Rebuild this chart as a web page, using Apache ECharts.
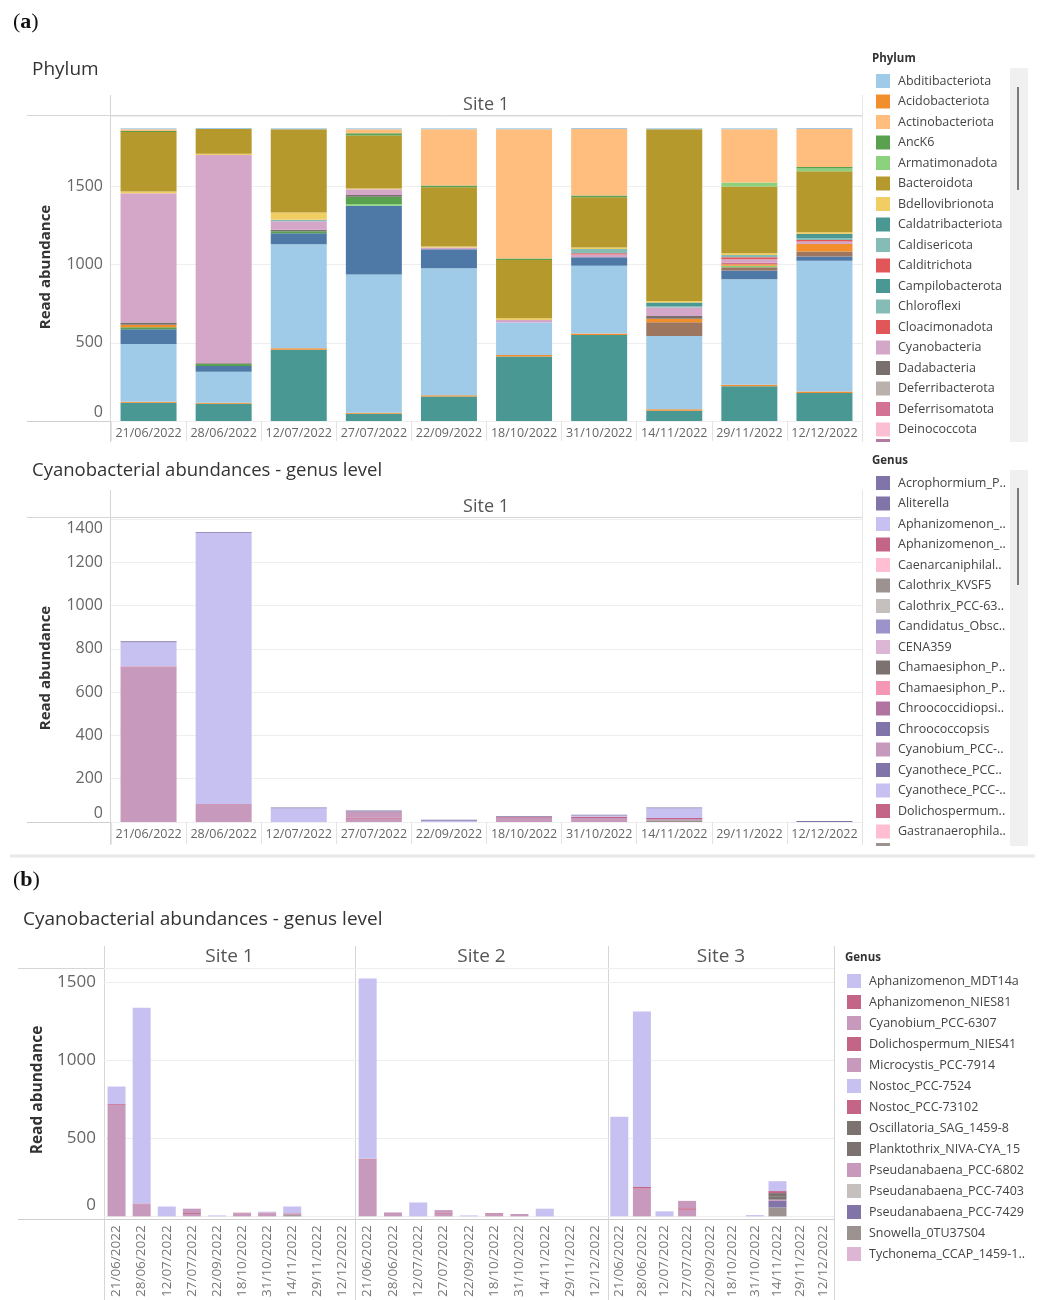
<!DOCTYPE html>
<html>
<head>
<meta charset="utf-8">
<script src="https://cdn.jsdelivr.net/npm/echarts@6/dist/echarts.min.js"></script>
<style>
  html, body { margin: 0; padding: 0; background: #ffffff; }
  #chart { width: 1040px; height: 1300px; }
</style>
</head>
<body>
<div id="chart"></div>
<script>
// ---------- data ----------
const dates = ['21/06/2022','28/06/2022','12/07/2022','27/07/2022','22/09/2022',
               '18/10/2022','31/10/2022','14/11/2022','29/11/2022','12/12/2022'];

// Site 1 phyla, in legend order (the first one sits on top of each stack)
const phylumNames = ['Abditibacteriota','Acidobacteriota','Actinobacteriota','AncK6','Armatimonadota',
  'Bacteroidota','Bdellovibrionota','Caldatribacteriota','Caldisericota','Calditrichota',
  'Campilobacterota','Chloroflexi','Cloacimonadota','Cyanobacteria','Dadabacteria',
  'Deferribacterota','Deferrisomatota','Deinococcota','Dependentiae','Desulfobacterota',
  'Firmicutes','Gemmatimonadota','Myxococcota','Planctomycetota','Proteobacteria',
  'Spirochaetota','Verrucomicrobiota'];

const phylumReads = [
  [6, 6, 6, 6, 6, 6, 6, 6, 6, 6],
  [0, 0, 0, 0, 0, 0, 0, 0, 0, 0],
  [11, 0, 0, 26, 360, 827, 426, 0, 341, 243],
  [6, 0, 0, 13, 11, 9, 11, 0, 0, 9],
  [0, 0, 0, 0, 0, 0, 0, 0, 26, 19],
  [381, 158, 533, 339, 379, 373, 320, 1098, 426, 390],
  [11, 9, 47, 6, 6, 11, 11, 9, 11, 11],
  [0, 0, 0, 0, 0, 0, 0, 23, 0, 26],
  [0, 0, 9, 0, 0, 0, 26, 9, 15, 11],
  [0, 0, 0, 0, 0, 0, 9, 0, 13, 11],
  [0, 0, 0, 0, 0, 0, 0, 0, 0, 0],
  [0, 0, 0, 0, 0, 0, 0, 0, 0, 0],
  [0, 0, 0, 0, 0, 0, 0, 0, 0, 0],
  [827, 1330, 55, 36, 11, 17, 17, 55, 21, 15],
  [13, 6, 9, 11, 0, 0, 0, 17, 0, 0],
  [0, 0, 0, 0, 0, 0, 0, 0, 0, 0],
  [0, 0, 0, 0, 0, 0, 0, 0, 11, 0],
  [0, 0, 0, 0, 0, 0, 0, 0, 0, 0],
  [0, 0, 0, 0, 0, 0, 0, 0, 0, 0],
  [17, 0, 0, 0, 0, 0, 0, 23, 9, 49],
  [13, 13, 13, 47, 0, 0, 0, 0, 0, 0],
  [0, 0, 0, 11, 0, 0, 0, 0, 10, 0],
  [0, 0, 0, 0, 0, 0, 0, 87, 21, 32],
  [94, 36, 70, 439, 121, 0, 55, 0, 55, 26],
  [369, 198, 665, 884, 812, 207, 433, 469, 676, 837],
  [6, 6, 9, 6, 9, 9, 9, 9, 9, 9],
  [117, 111, 456, 47, 156, 413, 550, 66, 222, 179]
];

// Cyanobacterial genera shown per site
const genusNames = ['Aphanizomenon_MDT14a','Aphanizomenon_NIES81','Cyanobium_PCC-6307',
  'Dolichospermum_NIES41','Microcystis_PCC-7914','Nostoc_PCC-7524','Nostoc_PCC-73102',
  'Oscillatoria_SAG_1459-8','Planktothrix_NIVA-CYA_15','Pseudanabaena_PCC-6802',
  'Pseudanabaena_PCC-7403','Pseudanabaena_PCC-7429','Snowella_0TU37S04','Tychonema_CCAP_1459-11'];

const site1Reads = [
  [112, 1254, 63, 0, 6, 0, 6, 44, 0, 0],
  [0, 0, 0, 0, 0, 0, 0, 0, 0, 0],
  [0, 0, 0, 28, 0, 0, 0, 0, 0, 0],
  [5, 4, 0, 6, 0, 3, 5, 5, 0, 0],
  [714, 78, 0, 15, 0, 20, 19, 6, 0, 0],
  [0, 0, 0, 0, 0, 0, 0, 0, 0, 0],
  [0, 0, 0, 0, 0, 0, 0, 0, 0, 0],
  [0, 0, 0, 0, 0, 0, 0, 0, 0, 0],
  [0, 0, 0, 0, 0, 0, 0, 0, 0, 0],
  [0, 0, 0, 0, 0, 0, 0, 0, 0, 0],
  [0, 0, 0, 0, 0, 0, 0, 0, 0, 0],
  [0, 0, 0, 0, 0, 0, 0, 0, 0, 0],
  [0, 0, 0, 0, 0, 0, 0, 8, 0, 0],
  [0, 0, 0, 0, 0, 0, 0, 0, 0, 0]
];

const site2Reads = [
  [1155, 0, 89, 0, 6, 0, 0, 49, 0, 0],
  [0, 0, 0, 0, 0, 4, 0, 0, 0, 0],
  [0, 0, 0, 18, 0, 0, 0, 0, 0, 0],
  [5, 0, 0, 5, 0, 0, 0, 0, 0, 0],
  [363, 25, 0, 17, 0, 17, 15, 0, 0, 0],
  [0, 0, 0, 0, 0, 0, 0, 0, 0, 0],
  [0, 0, 0, 0, 0, 0, 0, 0, 0, 0],
  [0, 0, 0, 0, 0, 0, 0, 0, 0, 0],
  [0, 0, 0, 0, 0, 0, 0, 0, 0, 0],
  [0, 0, 0, 0, 0, 0, 0, 0, 0, 0],
  [0, 0, 0, 0, 0, 0, 0, 0, 0, 0],
  [0, 0, 0, 0, 0, 0, 0, 0, 0, 0],
  [0, 0, 0, 0, 0, 0, 0, 0, 0, 0],
  [0, 0, 0, 0, 0, 0, 0, 0, 0, 0]
];

const site3Reads = [
  [637, 1124, 32, 0, 0, 0, 8, 63, 0, 0],
  [0, 0, 0, 0, 0, 0, 0, 0, 0, 0],
  [0, 0, 0, 47, 0, 0, 0, 0, 0, 0],
  [0, 10, 0, 10, 0, 0, 0, 0, 0, 0],
  [0, 178, 0, 42, 0, 0, 0, 0, 0, 0],
  [0, 0, 0, 0, 0, 0, 0, 0, 0, 0],
  [0, 0, 0, 0, 0, 0, 0, 13, 0, 0],
  [0, 0, 0, 0, 0, 0, 0, 20, 0, 0],
  [0, 0, 0, 0, 0, 0, 0, 22, 0, 0],
  [0, 0, 0, 0, 0, 0, 0, 8, 0, 0],
  [0, 0, 0, 0, 0, 0, 0, 0, 0, 0],
  [0, 0, 0, 0, 0, 0, 0, 42, 0, 0],
  [0, 0, 0, 0, 0, 0, 0, 57, 0, 0],
  [0, 0, 0, 0, 0, 0, 0, 0, 0, 0]
];

// genus list of the single-site panel (alphabetical, top of stack first)
const panelGenusNames = ['Acrophormium_PCC-7375','Aliterella','Aphanizomenon_MDT14a','Aphanizomenon_NIES81',
  'Caenarcaniphilales','Calothrix_KVSF5','Calothrix_PCC-6303','Candidatus_Obscuribacter','CENA359',
  'Chamaesiphon_PCC-6605','Chamaesiphon_PCC-7430','Chroococcidiopsis_PCC-6712','Chroococcopsis',
  'Cyanobium_PCC-6307','Cyanothece_PCC-7425','Cyanothece_PCC-8801','Dolichospermum_NIES41',
  'Gastranaerophilales','Microcystis_PCC-7914','Snowella_0TU37S04'];
const panelGenusLabels = ['Acrophormium_P..','Aliterella','Aphanizomenon_..','Aphanizomenon_..',
  'Caenarcaniphilal..','Calothrix_KVSF5','Calothrix_PCC-63..','Candidatus_Obsc..','CENA359',
  'Chamaesiphon_P..','Chamaesiphon_P..','Chroococcidiopsi..','Chroococcopsis','Cyanobium_PCC-..',
  'Cyanothece_PCC..','Cyanothece_PCC-..','Dolichospermum..','Gastranaerophila..'];
const acrophormiumSite1 = [4, 4, 4, 4, 4, 3, 3, 4, 0, 5];

const siteNames = ['Site 1', 'Site 2', 'Site 3'];
const phylumTicks = [0, 500, 1000, 1500];
const panelTicks = [0, 200, 400, 600, 800, 1000, 1200, 1400];
const siteTicks = [0, 500, 1000, 1500];

// ---------- styling ----------
const FONT = "'Open Sans', 'Noto Sans', sans-serif";
const phylumColor = {
  Abditibacteriota:'#a0cbe8', Acidobacteriota:'#f28e2b', Actinobacteriota:'#ffbe7d', AncK6:'#59a14f',
  Armatimonadota:'#8cd17d', Bacteroidota:'#b6992d', Bdellovibrionota:'#f1ce63', Caldatribacteriota:'#499894',
  Caldisericota:'#86bcb6', Calditrichota:'#e15759', Campilobacterota:'#499894', Chloroflexi:'#86bcb6',
  Cloacimonadota:'#e15759', Cyanobacteria:'#d4a6c8', Dadabacteria:'#79706e', Deferribacterota:'#bab0ac',
  Deferrisomatota:'#d37295', Deinococcota:'#fabfd2', Dependentiae:'#b07aa1', Desulfobacterota:'#f28e2b',
  Firmicutes:'#59a14f', Gemmatimonadota:'#8cd17d', Myxococcota:'#9d7660', Planctomycetota:'#4e79a7',
  Proteobacteria:'#a0cbe8', Spirochaetota:'#f28e2b', Verrucomicrobiota:'#499894'
};
const genusColor = {
  'Acrophormium_PCC-7375':'#8074a8', 'Aliterella':'#8074a8', 'Aphanizomenon_MDT14a':'#c6c1f0',
  'Aphanizomenon_NIES81':'#c46487', 'Caenarcaniphilales':'#ffbed1', 'Calothrix_KVSF5':'#9c9290',
  'Calothrix_PCC-6303':'#c5bfbe', 'Candidatus_Obscuribacter':'#9b93c9', 'CENA359':'#ddb5d5',
  'Chamaesiphon_PCC-6605':'#7c7270', 'Chamaesiphon_PCC-7430':'#f498b6', 'Chroococcidiopsis_PCC-6712':'#b173a0',
  'Chroococcopsis':'#8074a8', 'Cyanobium_PCC-6307':'#c799bc', 'Cyanothece_PCC-7425':'#8074a8',
  'Cyanothece_PCC-8801':'#c6c1f0', 'Dolichospermum_NIES41':'#c46487', 'Gastranaerophilales':'#ffbed1',
  'Microcystis_PCC-7914':'#c799bc', 'Nostoc_PCC-7524':'#c6c1f0', 'Nostoc_PCC-73102':'#c46487',
  'Oscillatoria_SAG_1459-8':'#7c7270', 'Planktothrix_NIVA-CYA_15':'#7c7270', 'Pseudanabaena_PCC-6802':'#c799bc',
  'Pseudanabaena_PCC-7403':'#c5bfbe', 'Pseudanabaena_PCC-7429':'#8074a8', 'Snowella_0TU37S04':'#9c9290',
  'Tychonema_CCAP_1459-11':'#ddb5d5'
};

// ---------- layout ----------
const grids = [
  { left: 111, top: 116, width: 751, height: 305 },   // phylum
  { left: 111, top: 519, width: 751, height: 303 },   // genus, single site
  { left: 104, top: 968, width: 251, height: 251 },   // site 1
  { left: 355, top: 968, width: 253, height: 251 },   // site 2
  { left: 608, top: 968, width: 226, height: 251 }    // site 3
];

function yAxisFor(gi, max, ticks, fontSize, shift) {
  const step = ticks[1] - ticks[0];
  const top = ticks[ticks.length - 1];
  return {
    gridIndex: gi, type: 'value', min: 0, max: max, interval: step,
    axisLine: { show: false }, axisTick: { show: false },
    splitLine: { lineStyle: { color: '#eeeeee', width: 1 } },
    axisLabel: {
      margin: 8, color: '#666', fontSize: fontSize, fontFamily: FONT,
      formatter: v => {
        if (ticks.indexOf(v) < 0) return '';
        if (v === 0) return '{lo|0}';
        if (v === top && top === max) return '{hi|' + v + '}';
        return String(v);
      },
      rich: {
        lo: { padding: [0, 0, shift, 0], fontSize: fontSize, color: '#666', fontFamily: FONT },
        hi: { padding: [shift, 0, 0, 0], fontSize: fontSize, color: '#666', fontFamily: FONT }
      }
    }
  };
}

const xAxes = [
  { gridIndex: 0, type: 'category', data: dates, axisLine: { show: false },
    axisTick: { show: true, length: 20, lineStyle: { color: '#e3e3e3' } },
    axisLabel: { interval: 0, margin: 6, color: '#666', fontSize: 12.5, fontFamily: FONT } },
  { gridIndex: 1, type: 'category', data: dates, axisLine: { show: false },
    axisTick: { show: true, length: 22, lineStyle: { color: '#e3e3e3' } },
    axisLabel: { interval: 0, margin: 6, color: '#666', fontSize: 12.5, fontFamily: FONT } }
];
for (let i = 2; i < 5; i++) {
  xAxes.push({ gridIndex: i, type: 'category', data: dates, axisLine: { show: false },
    axisTick: { show: false },
    axisLabel: { interval: 0, rotate: 90, margin: 9, color: '#777', fontSize: 13.5, fontFamily: FONT } });
}
const yAxes = [
  yAxisFor(0, 1950, phylumTicks, 16, 18),
  yAxisFor(1, 1400, panelTicks, 16, 18),
  yAxisFor(2, 1590, siteTicks, 17, 22),
  Object.assign(yAxisFor(3, 1590, siteTicks, 17, 22), { axisLabel: { show: false } }),
  Object.assign(yAxisFor(4, 1590, siteTicks, 17, 22), { axisLabel: { show: false } })
];

// ---------- series (stacks build from the bottom, so walk the lists backwards) ----------
const series = [];
for (let i = phylumNames.length - 1; i >= 0; i--) {
  const n = phylumNames[i];
  series.push({ name: n, type: 'bar', stack: 'phylum', xAxisIndex: 0, yAxisIndex: 0,
    barWidth: 56, data: phylumReads[i], itemStyle: { color: phylumColor[n] } });
}
for (let i = panelGenusNames.length - 1; i >= 0; i--) {
  const n = panelGenusNames[i];
  const k = genusNames.indexOf(n);
  let vals;
  if (k >= 0) vals = site1Reads[k];
  else if (n === 'Acrophormium_PCC-7375') vals = acrophormiumSite1;
  else vals = dates.map(() => 0);
  series.push({ name: n, type: 'bar', stack: 'panel', xAxisIndex: 1, yAxisIndex: 1,
    barWidth: 56, data: vals, itemStyle: { color: genusColor[n] } });
}
[site1Reads, site2Reads, site3Reads].forEach((rows, s) => {
  for (let i = genusNames.length - 1; i >= 0; i--) {
    const n = genusNames[i];
    series.push({ name: n, type: 'bar', stack: 'site' + s, xAxisIndex: s + 2, yAxisIndex: s + 2,
      barWidth: 18, data: rows[i], itemStyle: { color: genusColor[n] } });
  }
});

// ---------- legends ----------
const legendText = { fontSize: 12.5, color: '#444', fontFamily: FONT, lineHeight: 14, padding: [0, 0, 0, 3] };
const panelLabelOf = {};
panelGenusLabels.forEach((l, i) => { panelLabelOf[panelGenusNames[i]] = l; });
const legends = [
  { data: phylumNames.slice(0, 18), orient: 'vertical', left: 876, top: 74, padding: 0,
    itemWidth: 14, itemHeight: 14, itemGap: 6.5, icon: 'rect', selectedMode: false, textStyle: legendText },
  { data: panelGenusNames.slice(0, 18), orient: 'vertical', left: 876, top: 476, padding: 0,
    itemWidth: 14, itemHeight: 14, itemGap: 6.5, icon: 'rect', selectedMode: false, textStyle: legendText,
    formatter: n => panelLabelOf[n] || n },
  { data: genusNames, orient: 'vertical', left: 847, top: 974, padding: 0,
    itemWidth: 14, itemHeight: 14, itemGap: 7, icon: 'rect', selectedMode: false, textStyle: legendText,
    formatter: n => n === 'Tychonema_CCAP_1459-11' ? 'Tychonema_CCAP_1459-1..' : n }
];

// ---------- frame: headers, rules, titles ----------
const LINE = '#d6d6d6';
function hline(x1, x2, y, c, w) {
  return { type: 'line', silent: true, shape: { x1: x1, y1: y, x2: x2, y2: y },
    style: { stroke: c || LINE, lineWidth: w || 1 } };
}
function vline(x, y1, y2, c, w) {
  return { type: 'line', silent: true, shape: { x1: x, y1: y1, x2: x, y2: y2 },
    style: { stroke: c || LINE, lineWidth: w || 1 } };
}
function label(text, x, y, size, color, extra) {
  return { type: 'text', silent: true, x: x, y: y,
    style: Object.assign({ text: text, fontSize: size, fill: color, fontFamily: FONT,
      align: 'left', verticalAlign: 'middle' }, extra || {}) };
}
function yTitle(x, y, size) {
  return { type: 'text', silent: true, x: x, y: y, rotation: Math.PI / 2,
    style: { text: 'Read abundance', fontSize: size, fontWeight: 'bold', fill: '#333', fontFamily: FONT,
      align: 'center', verticalAlign: 'middle' } };
}

const graphics = [
  // panel tags
  { type: 'text', silent: true, x: 13, y: 22,
    style: { text: '({b|a})', fontSize: 22, fill: '#111', fontFamily: "'Liberation Serif', serif",
      verticalAlign: 'middle', rich: { b: { fontWeight: 'bold', fontSize: 22, fontFamily: "'Liberation Serif', serif", fill: '#111' } } } },
  { type: 'text', silent: true, x: 13, y: 880,
    style: { text: '({b|b})', fontSize: 22, fill: '#111', fontFamily: "'Liberation Serif', serif",
      verticalAlign: 'middle', rich: { b: { fontWeight: 'bold', fontSize: 22, fontFamily: "'Liberation Serif', serif", fill: '#111' } } } },

  // phylum panel
  label('Phylum', 32, 70, 19, '#333'),
  label('Site 1', 486, 105, 18, '#555', { align: 'center' }),
  hline(27, 862, 115.5),
  hline(27, 862, 421.5, '#cfcfcf'),
  vline(110.5, 95, 442),
  vline(862.5, 95, 442, '#e6e6e6'),
  yTitle(46, 267, 15),
  label('Phylum', 872, 59, 11.5, '#333', { fontWeight: 'bold' }),
  { type: 'rect', silent: true, shape: { x: 1010, y: 68, width: 18, height: 374 }, style: { fill: '#f0f0f0' } },
  vline(1018, 87, 190, '#555', 1.5),
  { type: 'rect', silent: true, shape: { x: 876, y: 439, width: 14, height: 3 }, style: { fill: '#b07aa1' } },

  // single-site genus panel
  label('Cyanobacterial abundances - genus level', 32, 471, 18.5, '#333'),
  label('Site 1', 486, 507, 18, '#555', { align: 'center' }),
  hline(27, 862, 517.5),
  hline(27, 862, 822.5, '#cfcfcf'),
  vline(110.5, 490, 845),
  vline(862.5, 490, 845, '#e6e6e6'),
  yTitle(46, 668, 15),
  label('Genus', 872, 461, 11.5, '#333', { fontWeight: 'bold' }),
  { type: 'rect', silent: true, shape: { x: 1010, y: 470, width: 18, height: 376 }, style: { fill: '#f0f0f0' } },
  vline(1018, 488, 585, '#555', 1.5),
  { type: 'rect', silent: true, shape: { x: 876, y: 843, width: 14, height: 3 }, style: { fill: '#9c9290' } },

  hline(10, 1035, 856, '#e9e9e9', 3),

  // three-site panel
  label('Cyanobacterial abundances - genus level', 23, 920, 19, '#333'),
  hline(18, 834, 968.5),
  hline(18, 834, 1219.5, '#cfcfcf'),
  vline(104.5, 946, 1300),
  vline(355.5, 946, 1300),
  vline(608.5, 946, 1300),
  vline(834.5, 946, 1300),
  yTitle(38, 1090, 15.5),
  label('Genus', 845, 958, 11.5, '#333', { fontWeight: 'bold' })
];
siteNames.forEach((s, i) => {
  const g = grids[i + 2];
  graphics.push(label(s, g.left + g.width / 2, 957, 19, '#555', { align: 'center' }));
});

const chart = echarts.init(document.getElementById('chart'), null, { renderer: 'canvas' });
chart.setOption({
  animation: false,
  backgroundColor: '#ffffff',
  textStyle: { fontFamily: FONT },
  grid: grids.map(g => Object.assign({ containLabel: false }, g)),
  xAxis: xAxes,
  yAxis: yAxes,
  legend: legends,
  series: series,
  graphic: { elements: graphics }
});
</script>
</body>
</html>
